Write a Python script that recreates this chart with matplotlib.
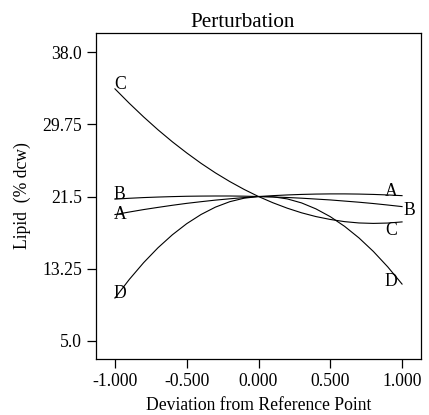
import numpy as np
import matplotlib.pyplot as plt

plt.rcParams['font.family'] = ['Liberation Serif', 'DejaVu Serif']
plt.rcParams['font.size'] = 12.7

# Deviation from reference point (coded units) and lipid response
deviation = [-1.0, -0.9, -0.8, -0.7, -0.6, -0.5, -0.4, -0.3, -0.2, -0.1, 0.0,
             0.1, 0.2, 0.3, 0.4, 0.5, 0.6, 0.7, 0.8, 0.9, 1.0]
lipid_A = [19.44, 19.73, 20.01, 20.26, 20.50, 20.72, 20.91, 21.09, 21.24, 21.38, 21.50,
           21.60, 21.68, 21.74, 21.78, 21.80, 21.80, 21.78, 21.74, 21.68, 21.60]
lipid_B = [21.20, 21.30, 21.38, 21.44, 21.49, 21.53, 21.55, 21.56, 21.56, 21.54, 21.50,
           21.45, 21.39, 21.31, 21.21, 21.11, 20.98, 20.85, 20.70, 20.53, 20.35]
lipid_C = [33.80, 32.15, 30.59, 29.12, 27.75, 26.48, 25.29, 24.20, 23.21, 22.31, 21.50,
           20.79, 20.17, 19.64, 19.21, 18.88, 18.63, 18.48, 18.43, 18.47, 18.60]
lipid_D = [9.90, 12.03, 13.95, 15.65, 17.13, 18.40, 19.45, 20.29, 20.91, 21.31, 21.50,
           21.47, 21.23, 20.77, 20.09, 19.20, 18.09, 16.77, 15.23, 13.47, 11.50]

series = {'A': lipid_A, 'B': lipid_B, 'C': lipid_C, 'D': lipid_D}

x_ticks = [-1.0, -0.5, 0.0, 0.5, 1.0]
x_tick_labels = ['-1.000', '-0.500', '0.000', '0.500', '1.000']
y_ticks = [5.0, 13.25, 21.5, 29.75, 38.0]
y_tick_labels = ['5.0', '13.25', '21.5', '29.75', '38.0']

fig = plt.figure(figsize=(4.29, 4.15), dpi=100)
ax = fig.add_axes([96/429, 1 - 359/415, 325/429, 326/415])

for name, vals in series.items():
    ax.plot(deviation, vals, color='black', linewidth=0.8)

# letter labels at both ends of each curve (pixel offsets)
left_off = {'A': (-1, -4), 'B': (-1, 0), 'C': (-1, 0), 'D': (-1, 0)}
right_off = {'A': (-4, 0, 'right'), 'B': (1, -8, 'left'),
             'C': (-5, -13, 'right'), 'D': (-5, -2, 'right')}
for name, vals in series.items():
    dx, dy = left_off[name]
    ax.annotate(name, (deviation[0], vals[0]), xytext=(dx, dy),
                textcoords='offset pixels', ha='left', va='baseline')
    dx, dy, ha = right_off[name]
    ax.annotate(name, (deviation[-1], vals[-1]), xytext=(dx, dy),
                textcoords='offset pixels', ha=ha, va='baseline')

ax.set_xlim(-1.132, 1.132)
ax.set_ylim(2.94, 40.18)
ax.set_xticks(x_ticks)
ax.set_xticklabels(x_tick_labels)
ax.set_yticks(y_ticks)
ax.set_yticklabels(y_tick_labels)
ax.tick_params(direction='out', length=6.5, width=0.9, pad=3.5)
for sp in ax.spines.values():
    sp.set_linewidth(0.9)

ax.set_title('Perturbation', x=0.452, pad=4)
ax.set_xlabel('Deviation from Reference Point', labelpad=5)
ax.set_ylabel('Lipid  (% dcw)', labelpad=8)

fig.savefig('out.png', dpi=100)
